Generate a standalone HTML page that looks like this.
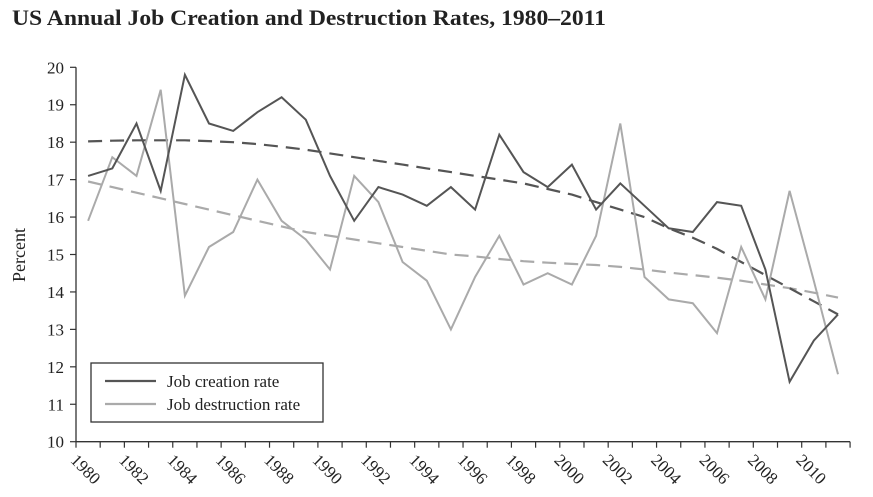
<!DOCTYPE html>
<html><head><meta charset="utf-8"><style>
body{margin:0;background:#fff;}
svg{display:block;font-family:"Liberation Serif",serif;}
</style></head><body>
<svg id="chart" width="873" height="497">
<text x="12" y="25" font-size="22.5" font-weight="bold" fill="#222" textLength="594" lengthAdjust="spacingAndGlyphs">US Annual Job Creation and Destruction Rates, 1980–2011</text>
<text transform="translate(25,255) rotate(-90)" text-anchor="middle" font-size="18" fill="#222">Percent</text>
<g id="axes"></g>
<g id="marks"></g>
<g>
<rect x="91" y="363" width="232" height="59" fill="#fff" stroke="#333" stroke-width="1.3"/>
<line x1="105" y1="381" x2="156" y2="381" stroke="#555" stroke-width="2.2"/>
<text x="167" y="387" font-size="17" fill="#222">Job creation rate</text>
<line x1="105" y1="404" x2="156" y2="404" stroke="#aaa" stroke-width="2.2"/>
<text x="167" y="410" font-size="17" fill="#222">Job destruction rate</text>
</g>
</svg>
<script>
const years=[1980,1981,1982,1983,1984,1985,1986,1987,1988,1989,1990,1991,1992,1993,1994,1995,1996,1997,1998,1999,2000,2001,2002,2003,2004,2005,2006,2007,2008,2009,2010,2011];
const creation=[17.1,17.3,18.5,16.7,19.8,18.5,18.3,18.8,19.2,18.6,17.1,15.9,16.8,16.6,16.3,16.8,16.2,18.2,17.2,16.8,17.4,16.2,16.9,16.3,15.7,15.6,16.4,16.3,14.6,11.6,12.7,13.4];
const destruction=[15.9,17.6,17.1,19.4,13.9,15.2,15.6,17.0,15.9,15.4,14.6,17.1,16.4,14.8,14.3,13.0,14.4,15.5,14.2,14.5,14.2,15.5,18.5,14.4,13.8,13.7,12.9,15.2,13.8,16.7,14.3,11.8];
const creationTrend=[18.02,18.04,18.05,18.05,18.05,18.03,18.0,17.95,17.88,17.8,17.7,17.6,17.5,17.4,17.3,17.2,17.1,17.0,16.9,16.75,16.6,16.4,16.2,16.0,15.7,15.45,15.15,14.8,14.45,14.1,13.75,13.4];
const destructionTrend=[16.95,16.8,16.65,16.5,16.35,16.2,16.05,15.9,15.75,15.6,15.5,15.4,15.3,15.2,15.1,15.0,14.95,14.88,14.82,14.78,14.75,14.72,14.67,14.6,14.52,14.45,14.38,14.3,14.2,14.1,13.98,13.85];
const yTicks=[10,11,12,13,14,15,16,17,18,19,20];
const xLabels=[1980,1982,1984,1986,1988,1990,1992,1994,1996,1998,2000,2002,2004,2006,2008,2010];

const NS="http://www.w3.org/2000/svg";
const x0=76,step=24.19,yBase=441.7,yPer=37.44;
const X=i=>x0+step*(i+0.5);
const Y=v=>yBase-(v-10)*yPer;
const axes=document.getElementById('axes'),marks=document.getElementById('marks');
function mk(tag,attrs,parent){const e=document.createElementNS(NS,tag);for(const k in attrs)e.setAttribute(k,attrs[k]);parent.appendChild(e);return e;}

let e=mk('line',{x1:x0,y1:Y(20),x2:x0,y2:yBase,stroke:'#333','stroke-width':1.3},axes);


e=mk('line',{x1:x0,y1:yBase,x2:x0+step*years.length,y2:yBase,stroke:'#333','stroke-width':1.3},axes);


yTicks.forEach(v=>{
  let t=mk('line',{x1:x0-6,y1:Y(v),x2:x0,y2:Y(v),stroke:'#333','stroke-width':1.2},axes);
  
  
  let l=mk('text',{x:x0-12,y:Y(v)+6,'text-anchor':'end','font-size':17,fill:'#222'},axes);
  l.textContent=v;
  
  
});
for(let i=0;i<=years.length;i++){
  let t=mk('line',{x1:x0+step*i,y1:yBase,x2:x0+step*i,y2:yBase+6,stroke:'#333','stroke-width':1.2},axes);
  
  
}
xLabels.forEach(yr=>{
  const i=years.indexOf(yr);const cx=X(i)-10,cy=yBase+11;
  let l=mk('text',{x:cx,y:cy,transform:`rotate(45 ${cx} ${cy})`,'font-size':17,fill:'#222','dominant-baseline':'hanging'},axes);
  l.textContent=yr;
  
  
});
function line(arr,color,dash,name){
  const pts=arr.map((v,i)=>X(i).toFixed(1)+','+Y(v).toFixed(1)).join(' ');
  const p=mk('polyline',{points:pts,fill:'none',stroke:color,'stroke-width':dash?2.2:2,'stroke-linejoin':'miter'},marks);
  if(dash)p.setAttribute('stroke-dasharray','14,8');
  
  
}
line(destructionTrend,'#aaa',true,'destruction-trend-line');
line(creationTrend,'#555',true,'creation-trend-line');
line(destruction,'#aaa',false,'destruction-rate-line');
line(creation,'#555',false,'creation-rate-line');
</script>
</body></html>
